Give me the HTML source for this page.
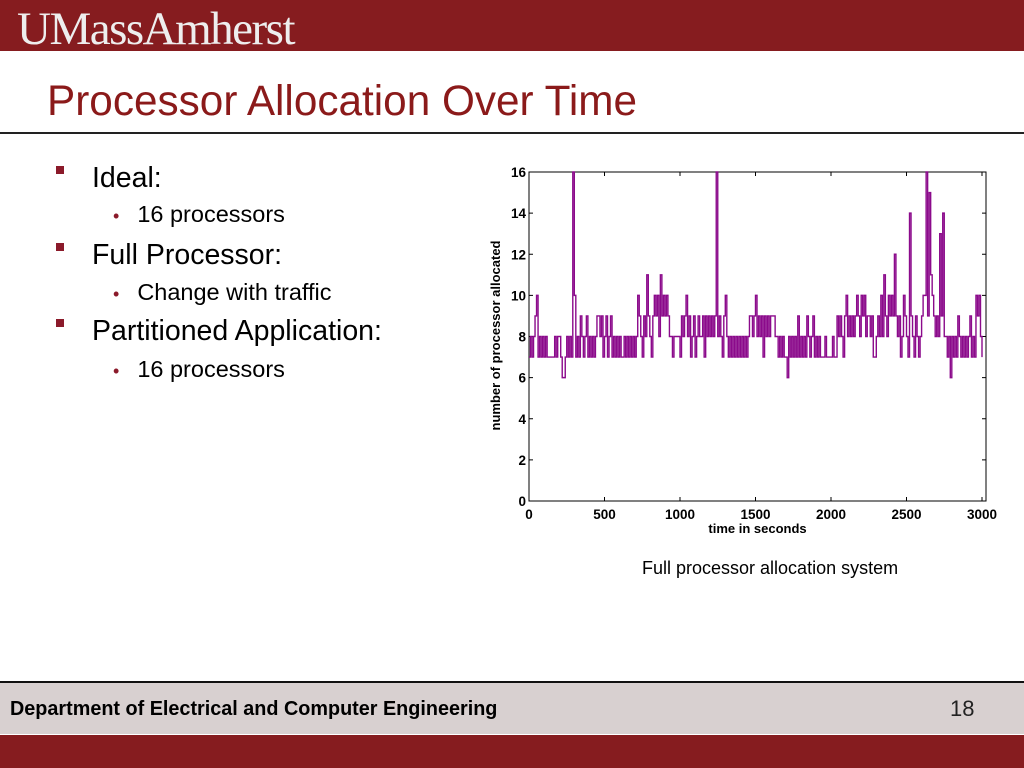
<!DOCTYPE html>
<html><head><meta charset="utf-8"><style>
body{margin:0;width:1024px;height:768px;position:relative;background:#fff;font-family:"Liberation Sans",sans-serif;overflow:hidden}
.a{position:absolute;white-space:nowrap}
.sq{display:inline-block;width:8px;height:8px;background:#8b1a2a;vertical-align:middle;position:relative;top:-9px;margin-right:28px}
</style></head><body>
<div class="a" style="left:0;top:0;width:1024px;height:51px;background:#861c1f"></div>
<div class="a" style="left:17px;top:4px;font-family:'Liberation Serif',serif;font-size:47px;color:#eee;letter-spacing:-1.5px;line-height:50px">UMassAmherst</div>
<div class="a" style="left:47px;top:77px;font-size:42.3px;color:#8b1a1a;line-height:48px">Processor Allocation Over Time</div>
<div class="a" style="left:0;top:132px;width:1024px;height:2px;background:#222"></div>

<div class="a" style="left:56px;top:162px;font-size:28.5px;line-height:32px"><span class="sq"></span>Ideal:</div>
<div class="a" style="left:113px;top:200px;font-size:23.5px;line-height:28px"><span style="color:#8b1a2a;font-size:18px;margin-right:18px">•</span>16 processors</div>
<div class="a" style="left:56px;top:239px;font-size:28.5px;line-height:32px"><span class="sq"></span>Full Processor:</div>
<div class="a" style="left:113px;top:278px;font-size:23.5px;line-height:28px"><span style="color:#8b1a2a;font-size:18px;margin-right:18px">•</span>Change with traffic</div>
<div class="a" style="left:56px;top:315px;font-size:28.5px;line-height:32px"><span class="sq"></span>Partitioned Application:</div>
<div class="a" style="left:113px;top:355px;font-size:23.5px;line-height:28px"><span style="color:#8b1a2a;font-size:18px;margin-right:18px">•</span>16 processors</div>

<svg id="chart" class="a" style="left:0;top:0" width="1024" height="768"></svg>
<div class="a" style="left:642px;top:557px;font-size:18px;line-height:22px">Full processor allocation system</div>

<div class="a" style="left:0;top:681px;width:1024px;height:2px;background:#111"></div>
<div class="a" style="left:0;top:683px;width:1024px;height:51px;background:#d8d0d0"></div>
<div class="a" style="left:10px;top:697px;font-size:20px;font-weight:bold;line-height:24px;transform:scaleX(0.99);transform-origin:left">Department of Electrical and Computer Engineering</div>
<div class="a" style="left:950px;top:697px;font-size:22px;line-height:24px;color:#222">18</div>
<div class="a" style="left:0;top:735px;width:1024px;height:33px;background:#861c1f"></div>

<script>
const xTicks=[0,500,1000,1500,2000,2500,3000];
const yTicks=[0,2,4,6,8,10,12,14,16];
const stepSeconds=10;
const allocated=[
7,8,7,8,9,10,7,8,7,8,
7,8,7,7,7,7,7,8,7,8,
8,7,6,6,7,8,7,8,7,16,
10,7,8,7,9,8,7,8,9,7,
8,7,8,7,8,9,9,8,9,7,
8,9,7,8,9,7,8,7,8,7,
8,7,7,8,7,8,7,8,7,8,
7,8,10,9,8,7,9,8,11,9,
8,7,9,10,9,10,8,11,9,10,
9,10,9,8,8,7,8,8,8,8,
7,9,8,9,10,8,9,7,8,9,
7,8,9,8,8,9,7,9,8,9,
8,9,8,9,16,8,9,8,7,9,
10,8,7,8,7,8,7,8,7,8,
7,8,7,8,7,8,9,9,8,9,
10,8,9,8,9,7,9,8,9,8,
9,9,9,8,8,7,8,7,8,7,
7,6,8,7,8,7,8,7,9,7,
8,7,8,7,9,8,7,8,9,7,
8,7,8,7,7,7,8,7,7,7,
7,8,7,7,9,8,9,8,7,9,
10,8,9,8,9,8,9,10,9,8,
10,9,10,8,9,9,8,9,7,7,
8,9,8,10,8,11,9,8,10,9,
10,9,12,9,8,9,7,8,10,9,
8,7,14,9,8,7,9,8,7,8,
9,10,10,16,9,15,11,10,9,8,
9,8,13,9,14,8,8,7,8,6,
8,7,8,7,9,8,7,8,7,8,
7,8,9,7,8,7,10,9,10,8,
7];
const svg=document.getElementById('chart');
const NS='http://www.w3.org/2000/svg';
const L=529,R=982,T=172,B=501,FR=986;
const xs=v=>L+(v-0)/(3000)*(R-L);
const ys=v=>B-(v/16)*(B-T);
function mk(tag,attrs){const e=document.createElementNS(NS,tag);for(const k in attrs)e.setAttribute(k,attrs[k]);svg.appendChild(e);return e;}
const frame=mk('rect',{x:L,y:T,width:FR-L,height:B-T,fill:'none',stroke:'#000','stroke-width':1});


xTicks.forEach(t=>{
  const x=xs(t);
  const l=mk('path',{d:`M${x} ${B}v-4M${x} ${T}v4`,stroke:'#000','stroke-width':1});
  
  
  const tx=mk('text',{x:x,y:B+18,'font-size':13.5,'font-weight':'bold','text-anchor':'middle','font-family':'Liberation Sans, sans-serif'});
  tx.textContent=t;
  
  
});
yTicks.forEach(t=>{
  const y=ys(t);
  const l=mk('path',{d:`M${L} ${y}h4M${FR} ${y}h-4`,stroke:'#000','stroke-width':1});
  
  
  const tx=mk('text',{x:L-3,y:y+5,'font-size':13.5,'font-weight':'bold','text-anchor':'end','font-family':'Liberation Sans, sans-serif'});
  tx.textContent=t;
  
  
});
const xt=mk('text',{x:(L+FR)/2,y:B+32,'font-size':13,'font-weight':'bold','text-anchor':'middle','font-family':'Liberation Sans, sans-serif'});
xt.textContent='time in seconds';


const yt=mk('text',{x:0,y:0,'font-size':13,'font-weight':'bold','text-anchor':'middle','font-family':'Liberation Sans, sans-serif',transform:`translate(500,${(T+B)/2-1}) rotate(-90)`});
yt.textContent='number of processor allocated';


let d='';
allocated.forEach((v,i)=>{
  const x=xs(i*stepSeconds),y=ys(v);
  if(i===0)d+=`M${x} ${y}`;else d+=`V${y}`;
  const xn=xs(Math.min((i+1)*stepSeconds,3000));
  d+=`H${xn}`;
});
const line=mk('path',{d:d,fill:'none',stroke:'#8b0a8b','stroke-width':1.4});


</script>
</body></html>
